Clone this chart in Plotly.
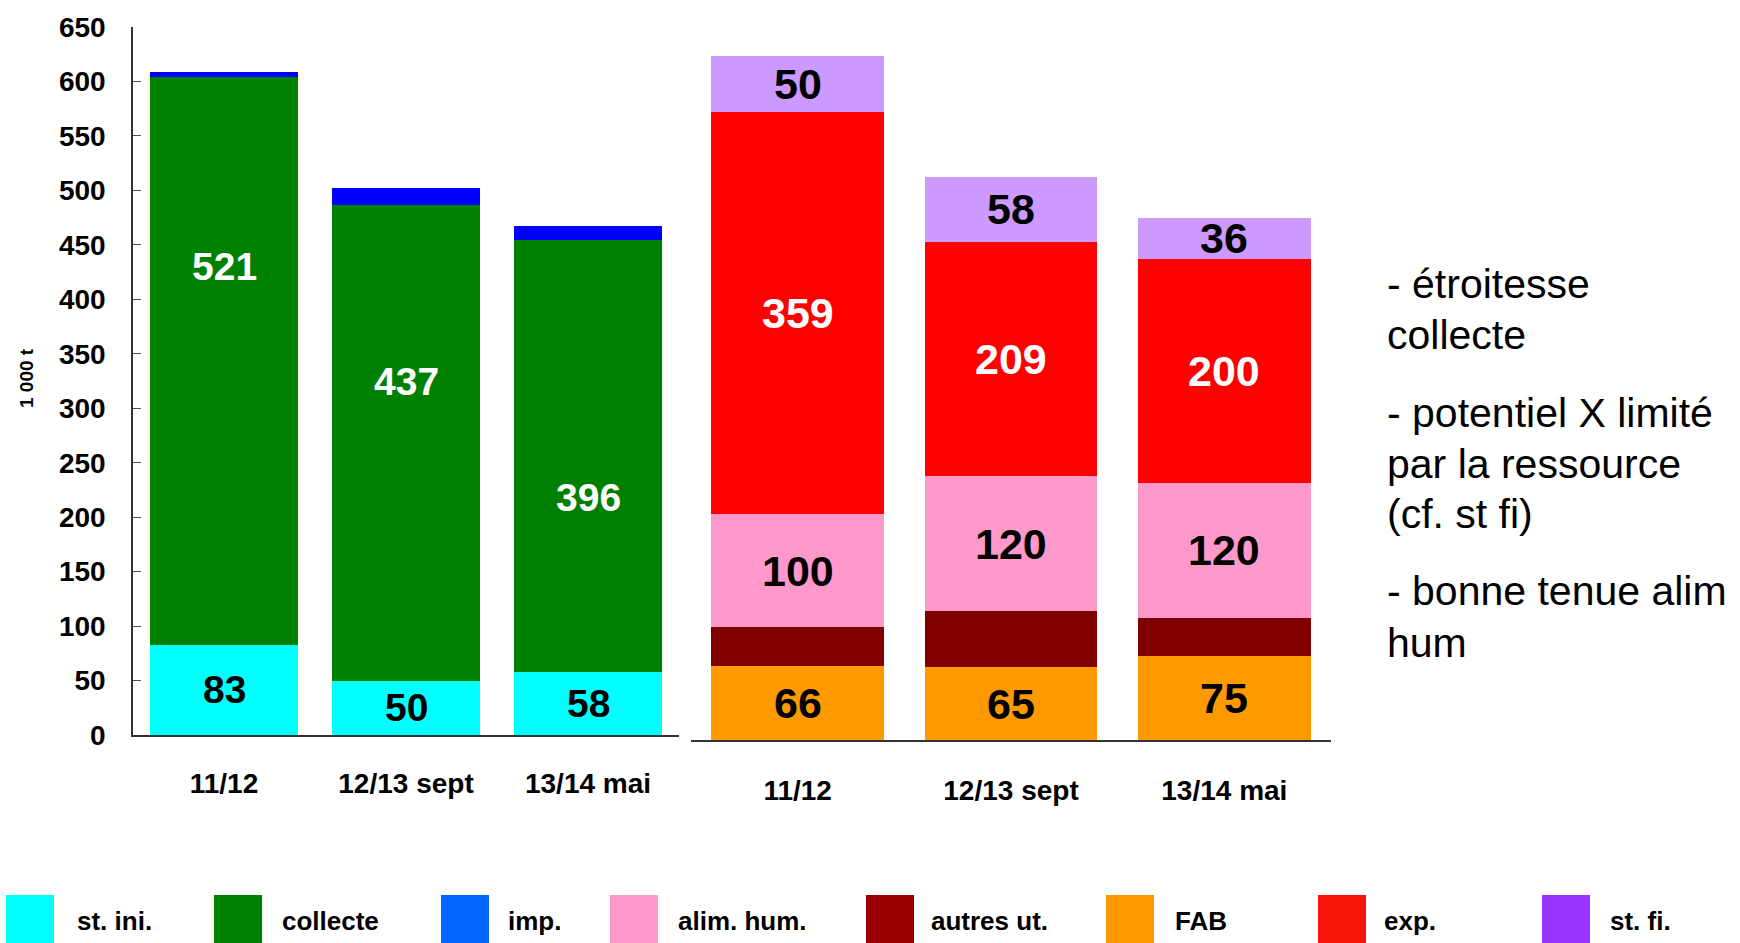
import plotly.graph_objects as go

W, H = 1740, 943

categories = ["11/12", "12/13 sept", "13/14 mai"]

# ressources (graphique de gauche), 1 000 t
st_ini = [83, 50, 58]
collecte = [521, 437, 396]
imp = [5, 15, 13]

# emplois (graphique de droite), 1 000 t
fab = [66, 65, 75]
autres_ut = [35, 50, 34]
alim_hum = [100, 120, 120]
exports = [359, 209, 200]
st_fi = [50, 58, 36]

# hauteur des étiquettes "collecte" (non centrées dans l'original)
collecte_label_y = [430, 325, 218]

legend_names = ["st. ini.", "collecte", "imp.", "alim. hum.",
                "autres ut.", "FAB", "exp.", "st. fi."]
legend_colors = ["#00FFFF", "#008000", "#0066FF", "#FF99CC",
                 "#990000", "#FF9900", "#F81408", "#9933FF"]

notes = [
    ["- étroitesse", "collecte"],
    ["- potentiel X limité", "par la ressource", "(cf. st fi)"],
    ["- bonne tenue alim", "hum"],
]

FONT = "Liberation Sans, Arial, sans-serif"


def px_x(x):
    return x / W


def px_y(y):
    return 1 - y / H


left_series = [
    ("st. ini.", st_ini, "#00FFFF", "black"),
    ("collecte", collecte, "#008000", "white"),
    ("imp.", imp, "#0000FF", None),
]
right_series = [
    ("FAB", fab, "#FF9900", "black"),
    ("autres ut.", autres_ut, "#800000", None),
    ("alim. hum.", alim_hum, "#FF99CC", "black"),
    ("exp.", exports, "#FF0000", "white"),
    ("st. fi.", st_fi, "#CC99FF", "black"),
]

fig = go.Figure()
annotations = []


def add_stack(series, xa, ya, size):
    base = [0] * len(categories)
    for name, vals, color, txtcol in series:
        fig.add_trace(go.Bar(
            x=categories, y=vals, name=name, xaxis=xa, yaxis=ya,
            marker=dict(color=color, line=dict(width=0)),
            showlegend=False,
        ))
        if txtcol:
            for i, v in enumerate(vals):
                y = base[i] + v / 2
                if name == "collecte":
                    y = collecte_label_y[i]
                annotations.append(dict(
                    x=categories[i], y=y, xref=xa, yref=ya, text=str(v),
                    showarrow=False, yanchor="middle",
                    font=dict(family=FONT, size=size, color=txtcol, weight="bold"),
                ))
        base = [b + v for b, v in zip(base, vals)]


add_stack(left_series, "x", "y", 39)
add_stack(right_series, "x2", "y2", 43)

# axe des ordonnées
annotations.append(dict(
    x=px_x(26), y=px_y(378), xref="paper", yref="paper", text="1 000 t",
    textangle=-90, showarrow=False, xanchor="center", yanchor="middle",
    font=dict(family=FONT, size=19, color="black", weight="bold"),
))

# commentaires à droite
line_y = [[284, 335], [413, 464, 514], [591, 643]]
for para, ys in zip(notes, line_y):
    for txt, y in zip(para, ys):
        annotations.append(dict(
            x=px_x(1385), y=px_y(y), xref="paper", yref="paper", text=txt,
            xanchor="left", yanchor="middle", showarrow=False,
            font=dict(family=FONT, size=41, color="black"),
        ))

# légende manuelle
swatch_x = [6, 214, 441, 610, 866, 1106, 1318, 1542]
text_x = [75, 280, 506, 676, 929, 1173, 1382, 1608]
shapes = []
for name, color, sx, tx in zip(legend_names, legend_colors, swatch_x, text_x):
    shapes.append(dict(
        type="rect", xref="paper", yref="paper",
        x0=px_x(sx), x1=px_x(sx + 48), y0=px_y(943), y1=px_y(895),
        fillcolor=color, line=dict(width=0),
    ))
    annotations.append(dict(
        x=px_x(tx), y=px_y(921), xref="paper", yref="paper", text=name,
        xanchor="left", yanchor="middle", showarrow=False,
        font=dict(family=FONT, size=26, color="black", weight="bold"),
    ))

axis_font = dict(family=FONT, size=28, color="black", weight="bold")

fig.update_layout(
    width=W, height=H,
    margin=dict(l=0, r=0, t=0, b=0, pad=0, autoexpand=False),
    paper_bgcolor="white", plot_bgcolor="white",
    barmode="stack", bargap=0.19,
    showlegend=False,
    xaxis=dict(
        domain=[px_x(133), px_x(679)], anchor="y", automargin=False,
        showline=True, linecolor="#333333", linewidth=2,
        showgrid=False, zeroline=False, ticks="",
        tickfont=axis_font, ticklabelstandoff=22,
    ),
    yaxis=dict(
        domain=[px_y(735), px_y(27)], anchor="x", range=[0, 650], dtick=50,
        automargin=False,
        showline=True, linecolor="#333333", linewidth=1.5,
        ticks="inside", ticklen=8, tickcolor="#555555",
        showgrid=False, zeroline=False,
        tickfont=axis_font, ticklabelstandoff=20,
    ),
    xaxis2=dict(
        domain=[px_x(691), px_x(1331)], anchor="y2", automargin=False,
        showline=True, linecolor="#333333", linewidth=2,
        showgrid=False, zeroline=False, ticks="",
        tickfont=axis_font, ticklabelstandoff=24,
    ),
    yaxis2=dict(
        domain=[px_y(740), px_y(27)], anchor="x2", range=[0, 713 / 1.122],
        visible=False, automargin=False,
    ),
    annotations=annotations,
    shapes=shapes,
)

fig.write_html(
    "out.html",
    config={"displayModeBar": False},
    post_script="document.body.style.margin='0';document.body.style.overflow='hidden';",
)
